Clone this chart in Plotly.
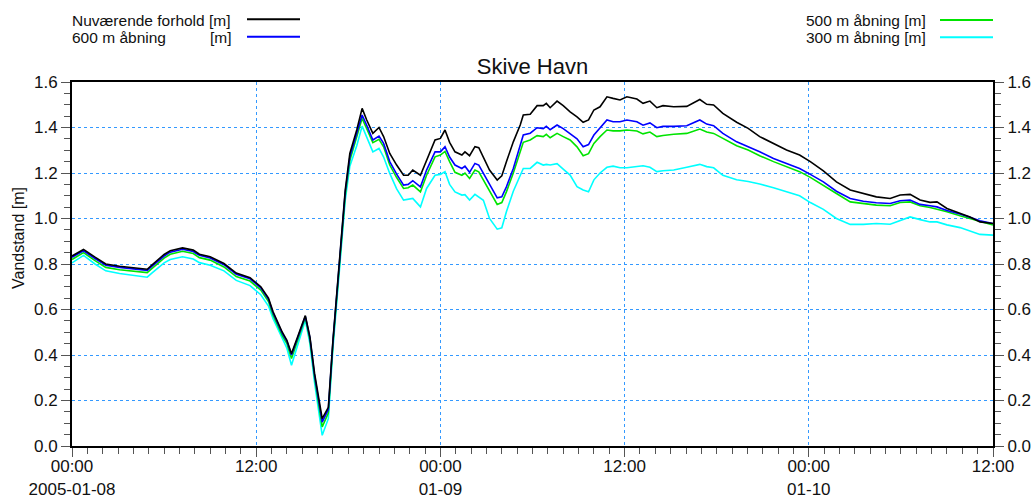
import pandas as pd
import plotly.graph_objects as go

# ---------------- data ----------------
hours = [0, 0.75, 1.5, 2.2, 3.1, 4.2, 4.9, 5.2, 6.0, 6.4,
         7.2, 7.9, 8.3, 9.0, 9.9, 10.7, 11.6, 12.3, 12.8, 13.1,
         13.7, 14.0, 14.3, 14.7, 15.2, 15.5, 15.8, 16.3, 16.7, 17.0,
         17.35, 17.6, 17.8, 18.1, 18.55, 18.9, 19.2, 19.6, 20.0, 20.3,
         20.7, 21.15, 21.6, 21.9, 22.2, 22.7, 23.1, 23.65, 24.0, 24.3,
         24.6, 24.95, 25.4, 25.6, 25.9, 26.25, 26.5, 26.8, 27.2, 27.7,
         28.0, 28.3, 28.75, 29.2, 29.4, 29.85, 30.3, 30.7, 30.9, 31.15,
         31.6, 32.0, 32.45, 32.9, 33.3, 33.65, 34.0, 34.4, 34.85, 35.25,
         35.7, 36.15, 36.8, 37.2, 37.65, 38.1, 38.5, 39.2, 40.05, 40.9,
         41.35, 41.8, 42.4, 43.3, 44.05, 44.8, 45.7, 46.55, 47.4, 48.1,
         48.95, 49.8, 50.7, 51.55, 52.4, 53.3, 53.95, 54.6, 55.25, 55.9,
         56.35, 57.0, 57.85, 58.5, 59.15, 60.0]

nuvaerende = [0.835, 0.864, 0.83, 0.80, 0.79, 0.783, 0.777, 0.795, 0.842, 0.858,
              0.871, 0.861, 0.843, 0.832, 0.802, 0.76, 0.74, 0.70, 0.65, 0.59,
              0.50, 0.465, 0.406, 0.48, 0.573, 0.48, 0.32, 0.12, 0.17, 0.465,
              0.744, 0.978, 1.125, 1.286, 1.389, 1.484, 1.433, 1.374, 1.40, 1.36,
              1.286, 1.235, 1.19, 1.19, 1.213, 1.19, 1.257, 1.345, 1.352, 1.389,
              1.335, 1.293, 1.279, 1.293, 1.276, 1.316, 1.311, 1.271, 1.213, 1.169,
              1.188, 1.25, 1.337, 1.411, 1.455, 1.458, 1.496, 1.496, 1.506, 1.487,
              1.516, 1.496, 1.469, 1.447, 1.423, 1.433, 1.477, 1.491, 1.535, 1.528,
              1.521, 1.535, 1.525, 1.506, 1.516, 1.487, 1.496, 1.491, 1.493, 1.523,
              1.502, 1.499, 1.462, 1.423, 1.396, 1.36, 1.33, 1.301, 1.279, 1.25,
              1.209, 1.161, 1.125, 1.11, 1.095, 1.088, 1.103, 1.106, 1.081, 1.071,
              1.073, 1.044, 1.022, 1.007, 0.985, 0.978]

aabning600 = [0.83, 0.858, 0.824, 0.795, 0.785, 0.778, 0.772, 0.79, 0.835, 0.852,
              0.865, 0.855, 0.838, 0.826, 0.797, 0.755, 0.735, 0.695, 0.645, 0.585,
              0.495, 0.46, 0.40, 0.475, 0.57, 0.475, 0.31, 0.105, 0.16, 0.46,
              0.74, 0.97, 1.115, 1.27, 1.37, 1.455, 1.41, 1.345, 1.362, 1.33,
              1.25, 1.195, 1.147, 1.15, 1.166, 1.139, 1.213, 1.293, 1.293, 1.316,
              1.27, 1.235, 1.22, 1.23, 1.203, 1.242, 1.235, 1.198, 1.147, 1.091,
              1.095, 1.139, 1.22, 1.32, 1.367, 1.375, 1.399, 1.395, 1.405, 1.39,
              1.411, 1.395, 1.374, 1.35, 1.315, 1.325, 1.367, 1.40, 1.433, 1.425,
              1.425, 1.433, 1.425, 1.41, 1.42, 1.399, 1.405, 1.405, 1.408, 1.433,
              1.415, 1.408, 1.374, 1.337, 1.316, 1.293, 1.264, 1.242, 1.22, 1.194,
              1.161, 1.12, 1.088, 1.076, 1.069, 1.066, 1.078, 1.081, 1.062, 1.056,
              1.051, 1.035, 1.02, 1.005, 0.99, 0.978]

aabning500 = [0.82, 0.85, 0.815, 0.785, 0.775, 0.768, 0.762, 0.78, 0.826, 0.843,
              0.856, 0.846, 0.828, 0.817, 0.787, 0.745, 0.725, 0.685, 0.635, 0.575,
              0.485, 0.45, 0.385, 0.465, 0.565, 0.465, 0.30, 0.084, 0.145, 0.45,
              0.735, 0.96, 1.10, 1.255, 1.355, 1.44, 1.395, 1.333, 1.348, 1.315,
              1.235, 1.18, 1.132, 1.135, 1.147, 1.117, 1.19, 1.271, 1.279, 1.295,
              1.25, 1.203, 1.19, 1.20, 1.176, 1.213, 1.205, 1.17, 1.117, 1.062,
              1.07, 1.117, 1.20, 1.29, 1.335, 1.345, 1.364, 1.36, 1.37, 1.355,
              1.374, 1.36, 1.345, 1.315, 1.276, 1.285, 1.33, 1.36, 1.389, 1.385,
              1.385, 1.389, 1.385, 1.372, 1.38, 1.36, 1.365, 1.37, 1.374, 1.393,
              1.38, 1.374, 1.352, 1.32, 1.301, 1.276, 1.25, 1.227, 1.206, 1.181,
              1.147, 1.11, 1.073, 1.065, 1.059, 1.056, 1.07, 1.073, 1.056, 1.048,
              1.041, 1.03, 1.012, 1.0, 0.985, 0.971]

aabning300 = [0.805, 0.838, 0.80, 0.77, 0.758, 0.75, 0.742, 0.76, 0.805, 0.82,
              0.832, 0.822, 0.806, 0.795, 0.77, 0.728, 0.705, 0.665, 0.615, 0.56,
              0.47, 0.43, 0.355, 0.44, 0.553, 0.45, 0.28, 0.047, 0.12, 0.43,
              0.72, 0.94, 1.08, 1.23, 1.32, 1.406, 1.36, 1.293, 1.308, 1.27,
              1.198, 1.13, 1.081, 1.085, 1.088, 1.051, 1.132, 1.19, 1.194, 1.206,
              1.15, 1.117, 1.103, 1.105, 1.081, 1.106, 1.095, 1.08, 1.0, 0.953,
              0.959, 1.03, 1.12, 1.185, 1.22, 1.22, 1.247, 1.235, 1.238, 1.235,
              1.241, 1.217, 1.191, 1.14, 1.125, 1.117, 1.17, 1.2, 1.225, 1.23,
              1.223, 1.223, 1.227, 1.232, 1.225, 1.206, 1.21, 1.213, 1.225, 1.238,
              1.228, 1.223, 1.19, 1.17, 1.163, 1.152, 1.135, 1.118, 1.10, 1.07,
              1.04, 1.0, 0.974, 0.974, 0.978, 0.975, 0.99, 1.007, 0.995, 0.985,
              0.985, 0.972, 0.96, 0.945, 0.93, 0.927]

series_names = ["Nuværende forhold [m]", "600 m åbning", "500 m åbning [m]", "300 m åbning [m]"]
series_colors = ["#000000", "#0000ff", "#00e400", "#00ffff"]

start = "2005-01-08 00:00"
tick_hours = [0, 12, 24, 36, 48, 60]
tick_text = ["00:00<br>2005-01-08", "12:00", "00:00<br>01-09", "12:00", "00:00<br>01-10", "12:00"]
y_ticks = [0.0, 0.2, 0.4, 0.6, 0.8, 1.0, 1.2, 1.4, 1.6]

# ---------------- figure ----------------
t0 = pd.Timestamp(start)
times = [t0 + pd.Timedelta(hours=h) for h in hours]
tickvals = [t0 + pd.Timedelta(hours=h) for h in tick_hours]

fig = go.Figure()
all_series = [nuvaerende, aabning600, aabning500, aabning300]
for idx in [3, 2, 1, 0]:
    fig.add_trace(go.Scatter(x=times, y=all_series[idx], mode="lines",
                             name=series_names[idx],
                             line=dict(color=series_colors[idx], width=1.6),
                             showlegend=False))
# invisible trace to activate right axis
fig.add_trace(go.Scatter(x=times, y=nuvaerende, mode="lines", yaxis="y2",
                         line=dict(color="rgba(0,0,0,0)", width=0),
                         showlegend=False, hoverinfo="skip"))

FONT = "Liberation Sans, Arial, sans-serif"
GRID = "#3399ff"
TICKC = "#555555"

L, R, T, B = 72, 43, 82, 52
W, H = 1036, 498
pw, ph = W - L - R, H - T - B

def px_x(px):
    return (px - L) / pw

def px_y(py):
    return (H - B - py) / ph

fig.update_layout(
    width=W, height=H,
    margin=dict(l=L, r=R, t=T, b=B, autoexpand=False),
    paper_bgcolor="white", plot_bgcolor="white",
    font=dict(family=FONT, size=17, color="#111111"),
    title=dict(text="Skive Havn", x=0.5, xref="paper", xanchor="center",
               y=1 - 66 / H, yanchor="middle", font=dict(size=22, color="#111111")),
    showlegend=False,
    xaxis=dict(type="date", range=[tickvals[0], tickvals[-1]], automargin=False,
               tickvals=tickvals, ticktext=tick_text, tickangle=0,
               ticks="outside", ticklen=9, tickcolor=TICKC, tickwidth=1,
               ticklabelstandoff=-5,
               showline=True, linecolor="black", linewidth=2, mirror=True,
               showgrid=True, gridcolor=GRID, griddash="dot", gridwidth=1,
               zeroline=False,
               minor=dict(ticks="outside", ticklen=6, tickcolor=TICKC,
                          dtick=3600000, showgrid=False)),
    yaxis=dict(range=[0, 1.6], tickvals=y_ticks, tickformat=".1f", automargin=False,
               ticks="outside", ticklen=9, tickcolor=TICKC, tickwidth=1,
               showline=True, linecolor="black", linewidth=2,
               showgrid=True, gridcolor=GRID, griddash="dot", gridwidth=1,
               zeroline=False,
               minor=dict(ticks="outside", ticklen=6, tickcolor=TICKC,
                          dtick=0.05, showgrid=False)),
    yaxis2=dict(range=[0, 1.6], tickvals=y_ticks, tickformat=".1f", automargin=False,
                overlaying="y", side="right",
                ticks="outside", ticklen=9, tickcolor=TICKC, tickwidth=1,
                showline=True, linecolor="black", linewidth=2,
                showgrid=False, zeroline=False,
                minor=dict(ticks="outside", ticklen=6, tickcolor=TICKC,
                           dtick=0.05, showgrid=False)),
)

# y-axis title
fig.add_annotation(text="Vandstand [m]", xref="paper", yref="paper",
                   x=px_x(18), y=px_y(238), xanchor="center", yanchor="middle",
                   textangle=-90, showarrow=False,
                   font=dict(family=FONT, size=16, color="#111111"))

# ---------------- custom legend (text left of line sample) ----------------
LEG_FONT = dict(family=FONT, size=15.5, color="#111111")
leg_rows = [
    (0, 70, "left", 20.5, 247, 300, 19.3),
    (1, 70, "left", 38, 247, 300, 36.7),
    (2, 928, "right", 20.5, 940, 993, 20),
    (3, 928, "right", 38, 940, 993, 37.3),
]
for idx, tx, anch, ty, lx0, lx1, ly in leg_rows:
    fig.add_annotation(text=series_names[idx], xref="paper", yref="paper",
                       x=px_x(tx), y=px_y(ty), xanchor=anch, yanchor="middle",
                       showarrow=False, font=LEG_FONT)
    fig.add_shape(type="line", xref="paper", yref="paper",
                  x0=px_x(lx0), x1=px_x(lx1), y0=px_y(ly), y1=px_y(ly),
                  line=dict(color=series_colors[idx], width=2))
fig.add_annotation(text="[m]", xref="paper", yref="paper",
                   x=px_x(234), y=px_y(38), xanchor="right", yanchor="middle",
                   showarrow=False, font=LEG_FONT)

fig.write_html("out.html",
               config={"displayModeBar": False},
               post_script="document.body.style.margin='0px';"
                           "document.body.style.overflow='hidden';")
